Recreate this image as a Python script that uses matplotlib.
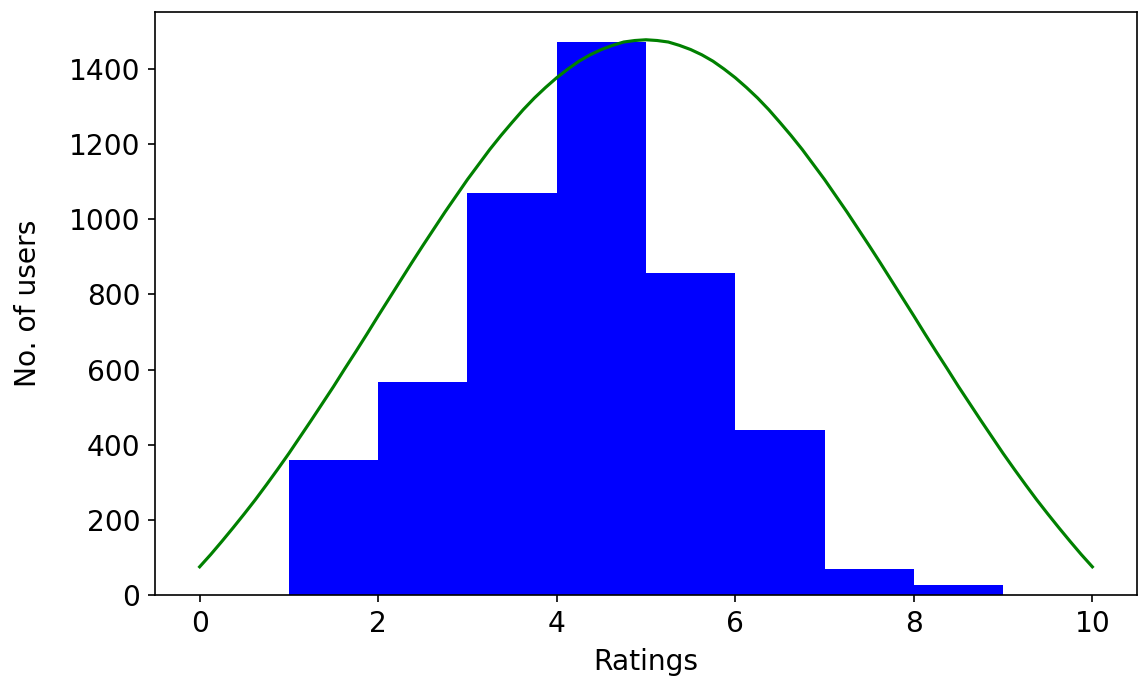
import numpy as np
import matplotlib
matplotlib.use("Agg")
import matplotlib.pyplot as plt

# Histogram: number of users per rating bin (edges 1..9)
bin_edges = [1, 2, 3, 4, 5, 6, 7, 8, 9]
users_per_bin = [360, 567, 1070, 1473, 857, 438, 70, 26]

# Green reference curve, every 0.125 rating
curve_ratings = np.linspace(0, 10, 81)
curve_users = [75, 108, 143, 179, 216, 254, 294, 335, 377, 421,
               465, 510, 555, 602, 648, 695, 743, 790, 837, 884,
               930, 975, 1020, 1063, 1106, 1146, 1186, 1223, 1258, 1292,
               1323, 1351, 1377, 1400, 1421, 1438, 1452, 1463, 1472, 1476,
               1478,
               1476, 1472, 1463, 1452, 1438, 1421, 1400, 1377, 1351, 1323,
               1292, 1258, 1223, 1186, 1146, 1106, 1063, 1020, 975, 930,
               884, 837, 790, 743, 695, 648, 602, 555, 510, 465,
               421, 377, 335, 294, 254, 216, 179, 143, 108, 75]

plt.rcParams['font.size'] = 13.5

fig = plt.figure(figsize=(1139 / 150, 680 / 150), dpi=150)
ax = fig.add_axes([155 / 1139, 1 - 595 / 680, 982 / 1139, 583 / 680])

ax.hist(bin_edges[:-1], bins=bin_edges, weights=users_per_bin, color='blue')
ax.plot(curve_ratings, curve_users, color='green')

ax.set_xlabel('Ratings', labelpad=5)
ax.set_ylabel('No. of users', labelpad=13)

fig.savefig('out.png', dpi=150)
